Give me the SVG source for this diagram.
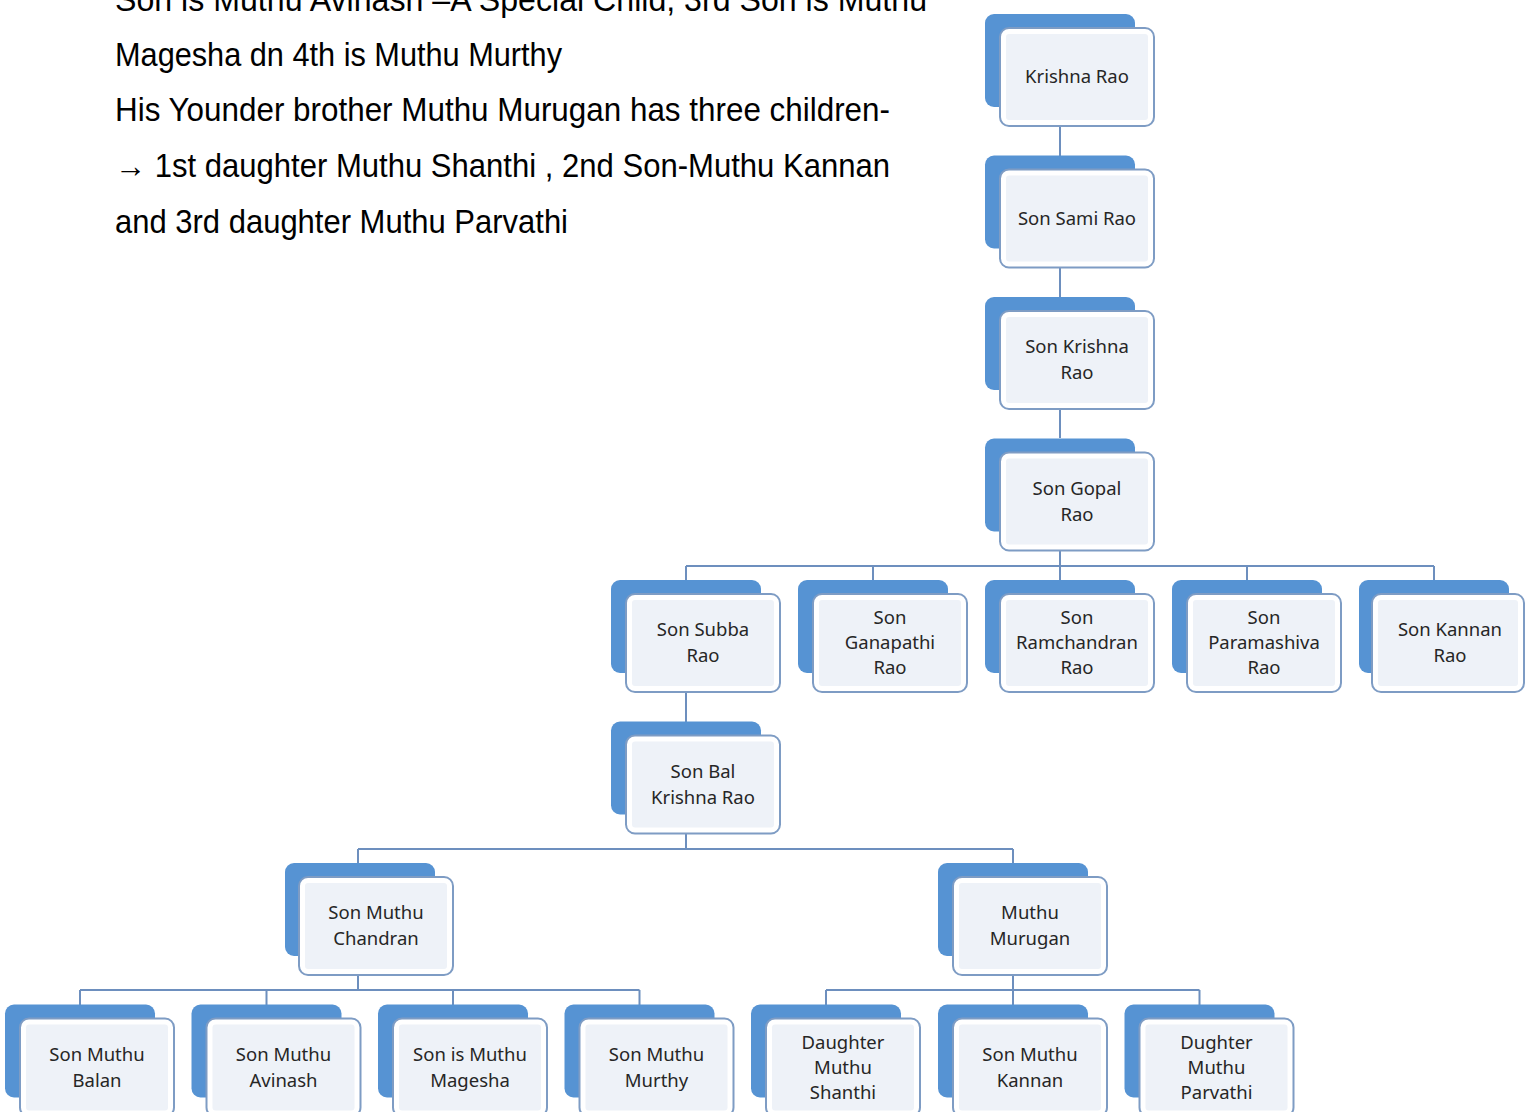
<svg xmlns="http://www.w3.org/2000/svg" width="1526" height="1112" viewBox="0 0 1526 1112">
<defs>
<style>
.bk{fill:#5693d3;}
.fr{fill:#ffffff;stroke:#7e9cc4;stroke-width:2;}
.in{fill:#eef2f8;}
.lb{font-family:"Noto Sans","Open Sans",sans-serif;font-size:18.5px;fill:#262626;text-anchor:middle;}
.cn{fill:none;stroke:#6d8fbe;stroke-width:2;}
.tx{font-family:"Liberation Sans",Arial,sans-serif;font-size:32.5px;fill:#000;}
</style>
</defs>
<rect width="1526" height="1112" fill="#ffffff"/>
<g id="intro-text">
<text class="tx" x="115" y="11" textLength="812" lengthAdjust="spacingAndGlyphs">Son is Muthu Avinash –A Special Child, 3rd Son is Muthu</text>
<text class="tx" x="115" y="66" textLength="447" lengthAdjust="spacingAndGlyphs">Magesha dn 4th is Muthu Murthy</text>
<text class="tx" x="115" y="121" textLength="775" lengthAdjust="spacingAndGlyphs">His Younder brother Muthu Murugan has three children-</text>
<text class="tx" x="115" y="177" textLength="775" lengthAdjust="spacingAndGlyphs">→ 1st daughter Muthu Shanthi , 2nd Son-Muthu Kannan</text>
<text class="tx" x="115" y="233" textLength="453" lengthAdjust="spacingAndGlyphs">and 3rd daughter Muthu Parvathi</text>
</g>
<g id="connectors">
<path class="cn" d="M1060 127V156 M1060 267V297 M1060 409V438 M1060 550V566"/>
<path class="cn" d="M686 566H1434 M686 566V580 M873 566V580 M1060 566V580 M1247 566V580 M1434 566V580"/>
<path class="cn" d="M686 692V722 M686 833V849"/>
<path class="cn" d="M358 849H1013 M358 849V863 M1013 849V863"/>
<path class="cn" d="M358 975V990 M80 990H639.5 M80 990V1005 M266.5 990V1005 M453 990V1005 M639.5 990V1005"/>
<path class="cn" d="M1013 975V990 M826 990H1199.5 M826 990V1005 M1013 990V1005 M1199.5 990V1005"/>
</g>
<g id="n-krishna-rao"><rect class="bk" x="985" y="14" width="150" height="93" rx="9"/><rect class="fr" x="1000" y="28" width="154" height="98" rx="9"/><rect class="in" x="1006" y="34" width="142" height="86" rx="3"/><text class="lb" x="1077" y="83">Krishna Rao</text></g>
<g id="n-sami-rao"><rect class="bk" x="985" y="155.5" width="150" height="93" rx="9"/><rect class="fr" x="1000" y="169.5" width="154" height="98" rx="9"/><rect class="in" x="1006" y="175.5" width="142" height="86" rx="3"/><text class="lb" x="1077" y="224.5">Son Sami Rao</text></g>
<g id="n-krishna-rao-2"><rect class="bk" x="985" y="297" width="150" height="93" rx="9"/><rect class="fr" x="1000" y="311" width="154" height="98" rx="9"/><rect class="in" x="1006" y="317" width="142" height="86" rx="3"/><text class="lb" x="1077" y="353">Son Krishna</text><text class="lb" x="1077" y="379">Rao</text></g>
<g id="n-gopal-rao"><rect class="bk" x="985" y="438.5" width="150" height="93" rx="9"/><rect class="fr" x="1000" y="452.5" width="154" height="98" rx="9"/><rect class="in" x="1006" y="458.5" width="142" height="86" rx="3"/><text class="lb" x="1077" y="494.5">Son Gopal</text><text class="lb" x="1077" y="520.5">Rao</text></g>
<g id="n-subba-rao"><rect class="bk" x="611" y="580" width="150" height="93" rx="9"/><rect class="fr" x="626" y="594" width="154" height="98" rx="9"/><rect class="in" x="632" y="600" width="142" height="86" rx="3"/><text class="lb" x="703" y="636">Son Subba</text><text class="lb" x="703" y="662">Rao</text></g>
<g id="n-ganapathi-rao"><rect class="bk" x="798" y="580" width="150" height="93" rx="9"/><rect class="fr" x="813" y="594" width="154" height="98" rx="9"/><rect class="in" x="819" y="600" width="142" height="86" rx="3"/><text class="lb" x="890" y="624">Son</text><text class="lb" x="890" y="649">Ganapathi</text><text class="lb" x="890" y="674">Rao</text></g>
<g id="n-ramchandran-rao"><rect class="bk" x="985" y="580" width="150" height="93" rx="9"/><rect class="fr" x="1000" y="594" width="154" height="98" rx="9"/><rect class="in" x="1006" y="600" width="142" height="86" rx="3"/><text class="lb" x="1077" y="624">Son</text><text class="lb" x="1077" y="649">Ramchandran</text><text class="lb" x="1077" y="674">Rao</text></g>
<g id="n-paramashiva-rao"><rect class="bk" x="1172" y="580" width="150" height="93" rx="9"/><rect class="fr" x="1187" y="594" width="154" height="98" rx="9"/><rect class="in" x="1193" y="600" width="142" height="86" rx="3"/><text class="lb" x="1264" y="624">Son</text><text class="lb" x="1264" y="649">Paramashiva</text><text class="lb" x="1264" y="674">Rao</text></g>
<g id="n-kannan-rao"><rect class="bk" x="1359" y="580" width="150" height="93" rx="9"/><rect class="fr" x="1372" y="594" width="152" height="98" rx="9"/><rect class="in" x="1378" y="600" width="140" height="86" rx="3"/><text class="lb" x="1450" y="636">Son Kannan</text><text class="lb" x="1450" y="662">Rao</text></g>
<g id="n-bal-krishna-rao"><rect class="bk" x="611" y="721.5" width="150" height="93" rx="9"/><rect class="fr" x="626" y="735.5" width="154" height="98" rx="9"/><rect class="in" x="632" y="741.5" width="142" height="86" rx="3"/><text class="lb" x="703" y="777.5">Son Bal</text><text class="lb" x="703" y="803.5">Krishna Rao</text></g>
<g id="n-muthu-chandran"><rect class="bk" x="285" y="863" width="150" height="93" rx="9"/><rect class="fr" x="299" y="877" width="154" height="98" rx="9"/><rect class="in" x="305" y="883" width="142" height="86" rx="3"/><text class="lb" x="376" y="919">Son Muthu</text><text class="lb" x="376" y="945">Chandran</text></g>
<g id="n-muthu-murugan"><rect class="bk" x="938" y="863" width="150" height="93" rx="9"/><rect class="fr" x="953" y="877" width="154" height="98" rx="9"/><rect class="in" x="959" y="883" width="142" height="86" rx="3"/><text class="lb" x="1030" y="919">Muthu</text><text class="lb" x="1030" y="945">Murugan</text></g>
<g id="n-muthu-balan"><rect class="bk" x="5" y="1004.5" width="150" height="93" rx="9"/><rect class="fr" x="20" y="1018.5" width="154" height="98" rx="9"/><rect class="in" x="26" y="1024.5" width="142" height="86" rx="3"/><text class="lb" x="97" y="1060.5">Son Muthu</text><text class="lb" x="97" y="1086.5">Balan</text></g>
<g id="n-muthu-avinash"><rect class="bk" x="191.5" y="1004.5" width="150" height="93" rx="9"/><rect class="fr" x="206.5" y="1018.5" width="154" height="98" rx="9"/><rect class="in" x="212.5" y="1024.5" width="142" height="86" rx="3"/><text class="lb" x="283.5" y="1060.5">Son Muthu</text><text class="lb" x="283.5" y="1086.5">Avinash</text></g>
<g id="n-muthu-magesha"><rect class="bk" x="378" y="1004.5" width="150" height="93" rx="9"/><rect class="fr" x="393" y="1018.5" width="154" height="98" rx="9"/><rect class="in" x="399" y="1024.5" width="142" height="86" rx="3"/><text class="lb" x="470" y="1060.5">Son is Muthu</text><text class="lb" x="470" y="1086.5">Magesha</text></g>
<g id="n-muthu-murthy"><rect class="bk" x="564.5" y="1004.5" width="150" height="93" rx="9"/><rect class="fr" x="579.5" y="1018.5" width="154" height="98" rx="9"/><rect class="in" x="585.5" y="1024.5" width="142" height="86" rx="3"/><text class="lb" x="656.5" y="1060.5">Son Muthu</text><text class="lb" x="656.5" y="1086.5">Murthy</text></g>
<g id="n-muthu-shanthi"><rect class="bk" x="751" y="1004.5" width="150" height="93" rx="9"/><rect class="fr" x="766" y="1018.5" width="154" height="98" rx="9"/><rect class="in" x="772" y="1024.5" width="142" height="86" rx="3"/><text class="lb" x="843" y="1048.5">Daughter</text><text class="lb" x="843" y="1073.5">Muthu</text><text class="lb" x="843" y="1098.5">Shanthi</text></g>
<g id="n-muthu-kannan"><rect class="bk" x="938" y="1004.5" width="150" height="93" rx="9"/><rect class="fr" x="953" y="1018.5" width="154" height="98" rx="9"/><rect class="in" x="959" y="1024.5" width="142" height="86" rx="3"/><text class="lb" x="1030" y="1060.5">Son Muthu</text><text class="lb" x="1030" y="1086.5">Kannan</text></g>
<g id="n-muthu-parvathi"><rect class="bk" x="1124.5" y="1004.5" width="150" height="93" rx="9"/><rect class="fr" x="1139.5" y="1018.5" width="154" height="98" rx="9"/><rect class="in" x="1145.5" y="1024.5" width="142" height="86" rx="3"/><text class="lb" x="1216.5" y="1048.5">Dughter</text><text class="lb" x="1216.5" y="1073.5">Muthu</text><text class="lb" x="1216.5" y="1098.5">Parvathi</text></g>
</svg>
